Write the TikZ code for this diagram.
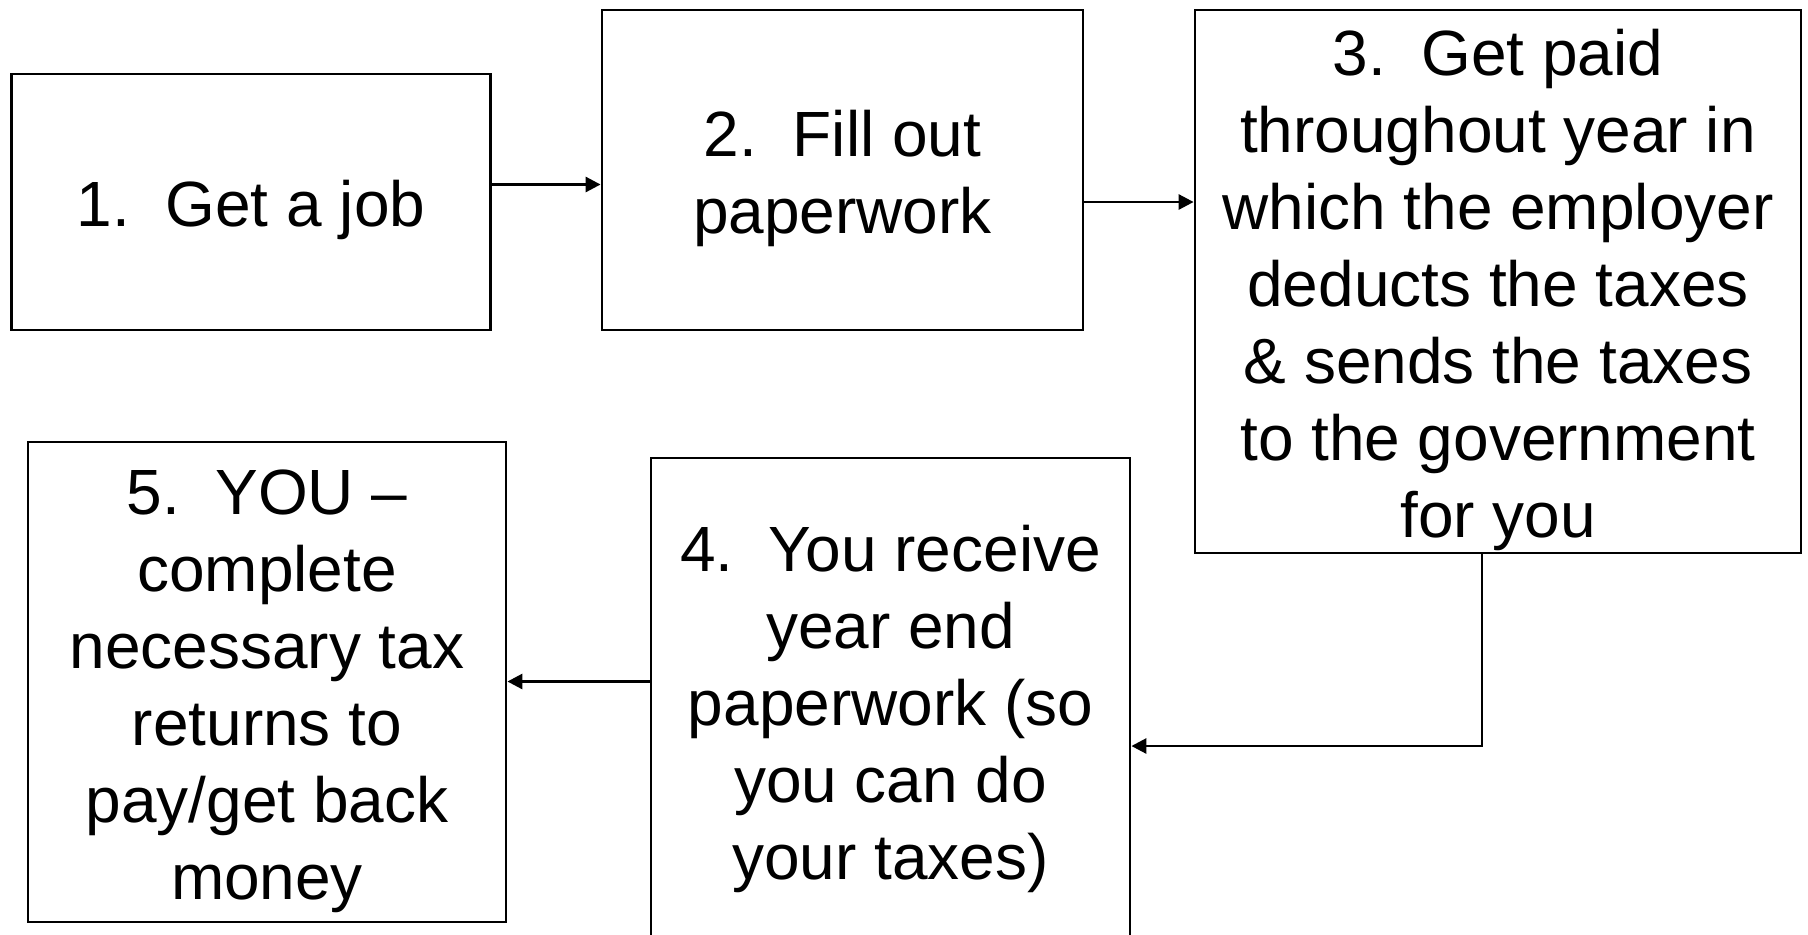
\documentclass[tikz,border=0pt]{standalone}
\usepackage{fontspec}
\setmainfont{Liberation Sans}
\usetikzlibrary{positioning, calc, arrows.meta}

% strut that pushes the first line of a box down a little
\newcommand{\toprow}{\rule{0pt}{17.8pt}}

\begin{document}
\begin{tikzpicture}[
    step box/.style={draw, line width=0.8pt, align=center, inner sep=0pt,
                     font=\fontsize{18.2}{21.9}\selectfont},
    arrow/.style={-{Triangle[length=1.5mm, width=1.5mm]}, line width=0.8pt}
]

% ----------------- frame -----------------
\useasboundingbox (0, 0) rectangle (18.08, 9.34);
\clip (0, 0) rectangle (18.08, 9.34);

% ----------------- top row -----------------
\node[step box, minimum width=4.785cm, minimum height=2.56cm] (job) at (2.51, 7.32)
    {\toprow 1.\ \ Get a job};
\node[step box, minimum width=4.81cm, minimum height=3.20cm] (paperwork) at (8.425, 7.64)
    {\toprow 2.\ \ Fill out\\paperwork};
\node[step box, minimum width=6.06cm, minimum height=5.43cm] (paid) at (14.98, 6.525)
    {\toprow 3.\ \ Get paid\\throughout year in\\which the employer\\deducts the taxes\\\& sends the taxes\\to the government\\for you};

% ----------------- bottom row -----------------
\node[step box, minimum width=4.79cm, minimum height=4.86cm] (yearend) at (8.905, 2.33)
    {\toprow 4.\ \ You receive\\year end\\paperwork (so\\you can do\\your taxes)};
\node[step box, minimum width=4.78cm, minimum height=4.80cm] (returns) at (2.67, 2.52)
    {\toprow 5.\ \ YOU --\\complete\\necessary tax\\returns to\\pay/get back\\money};

% ----------------- connectors -----------------
\draw[arrow] ([yshift=1.75mm]job.east) -- ([yshift=1.75mm]job.east -| paperwork.west);
\draw[arrow] ([yshift=-3.2mm]paperwork.east) -- ([yshift=-3.2mm]paperwork.east -| paid.west);
\draw[arrow] ([xshift=-1.6mm]paid.south) |- ([yshift=-4.5mm]yearend.east);
\draw[arrow] ([yshift=1.95mm]yearend.west) -- ([yshift=1.95mm]yearend.west -| returns.east);

\end{tikzpicture}
\end{document}
